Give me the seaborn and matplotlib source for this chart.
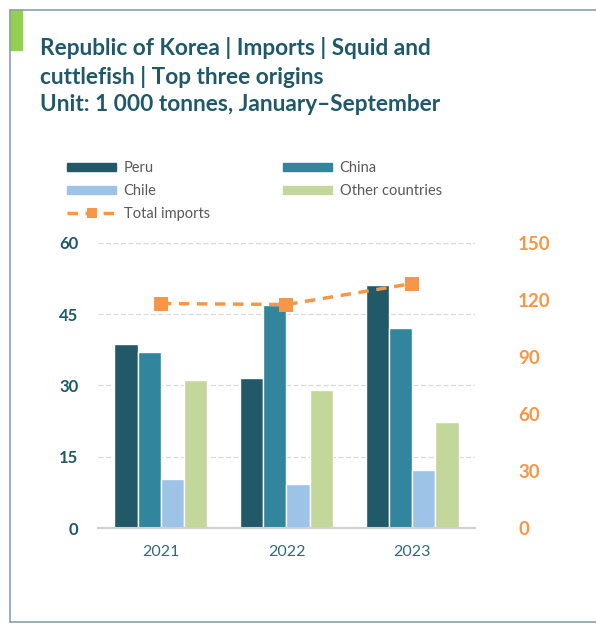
import pandas as pd
import matplotlib.pyplot as plt
import matplotlib.patches as mpatches
from matplotlib.lines import Line2D
import seaborn as sns

# Data (1 000 tonnes, January-September)
years = ['2021', '2022', '2023']
peru = [38.7, 31.6, 51.2]
china = [37.0, 46.8, 42.0]
chile = [10.4, 9.3, 12.2]
other = [31.2, 29.1, 22.3]
total = [118.0, 117.5, 128.5]

origins = ['Peru', 'China', 'Chile', 'Other countries']
colors = ['#215968', '#31859c', '#9dc3e6', '#c4d79b']
orange = '#f79646'
teal = '#1f5968'

df = pd.DataFrame({
    'year': years * 4,
    'origin': [o for o in origins for _ in years],
    'value': peru + china + chile + other,
})
tot = pd.DataFrame({'year': years, 'total': total})

sns.set_style('white')
plt.rcParams['font.family'] = ['Lato', 'DejaVu Sans']

fig = plt.figure(figsize=(5.96, 6.24), dpi=100)
ax = fig.add_axes([0.1644, 0.1538, 0.6326, 0.4573])

sns.barplot(data=df, x='year', y='value', hue='origin', hue_order=origins,
            palette=colors, saturation=1, width=0.74, edgecolor='white',
            linewidth=1, ax=ax, legend=False)
ax.set_xlim(-0.5, 2.5)
ax.set_ylim(0, 60)
ax.set_yticks([0, 15, 30, 45, 60])
ax.yaxis.grid(True, color='#d9d9d9', linestyle=(0, (4, 2)), linewidth=0.9)
ax.set_axisbelow(True)
for s in ['top', 'right', 'left']:
    ax.spines[s].set_visible(False)
ax.spines['bottom'].set_color('#d0d0d0')
ax.spines['bottom'].set_linewidth(1.5)
ax.set_xlabel('')
ax.set_ylabel('')
ax.tick_params(axis='y', length=0, pad=14, labelsize=12, labelcolor=teal)
ax.tick_params(axis='x', length=0, pad=12, labelsize=11.5, labelcolor='#2e6b7a')
for lab in ax.get_yticklabels():
    lab.set_fontweight('bold')

ax2 = ax.twinx()
sns.lineplot(data=tot, x='year', y='total', color=orange, linewidth=2.5,
             linestyle=(0, (3, 2.2)), marker='s', markersize=10,
             markeredgewidth=0, ax=ax2)
ax2.set_ylim(0, 150)
ax2.set_yticks([0, 30, 60, 90, 120, 150])
ax2.set_ylabel('')
for s in ax2.spines.values():
    s.set_visible(False)
ax2.tick_params(axis='y', length=0, pad=31, labelsize=13.5, labelcolor=orange)
for lab in ax2.get_yticklabels():
    lab.set_fontweight('bold')

# Legend
handles = [
    mpatches.Patch(color=colors[0], label='Peru'),
    mpatches.Patch(color=colors[2], label='Chile'),
    Line2D([0], [0], color=orange, linewidth=2.5, linestyle=(0, (3, 2.2)),
           marker='s', markersize=7, markeredgewidth=0, label='Total imports'),
    mpatches.Patch(color=colors[1], label='China'),
    mpatches.Patch(color=colors[3], label='Other countries'),
]
leg = fig.legend(handles=handles, ncol=2, loc='upper left',
                 bbox_to_anchor=(0.090, 0.763), frameon=False, fontsize=10.5,
                 handlelength=3.4, handleheight=0.5, columnspacing=5.0,
                 labelspacing=0.62, handletextpad=0.5)
for t in leg.get_texts():
    t.set_color('#595959')

# Title
fig.text(40 / 596, 1 - 37 / 624,
         'Republic of Korea | Imports | Squid and\ncuttlefish | Top three origins\n'
         'Unit: 1 000 tonnes, January\u2013September',
         ha='left', va='top', fontsize=16.3, fontweight='bold', color=teal,
         linespacing=1.38)

# Frame and accent
frame = '#8aa0aa'
fig.add_artist(Line2D([10 / 596, 10 / 596], [1 - 10 / 624, 1 - 622 / 624],
                      color=frame, linewidth=1.2, transform=fig.transFigure))
fig.add_artist(Line2D([10 / 596, 1], [1 - 10 / 624, 1 - 10 / 624],
                      color=frame, linewidth=1.2, transform=fig.transFigure))
fig.add_artist(Line2D([10 / 596, 1], [1 - 622 / 624, 1 - 622 / 624],
                      color=frame, linewidth=1.2, transform=fig.transFigure))
fig.add_artist(mpatches.Rectangle((10 / 596, 1 - 50 / 624), 12 / 596, 40 / 624,
                                  color='#92d050', transform=fig.transFigure))

fig.savefig('out.png', dpi=100)
